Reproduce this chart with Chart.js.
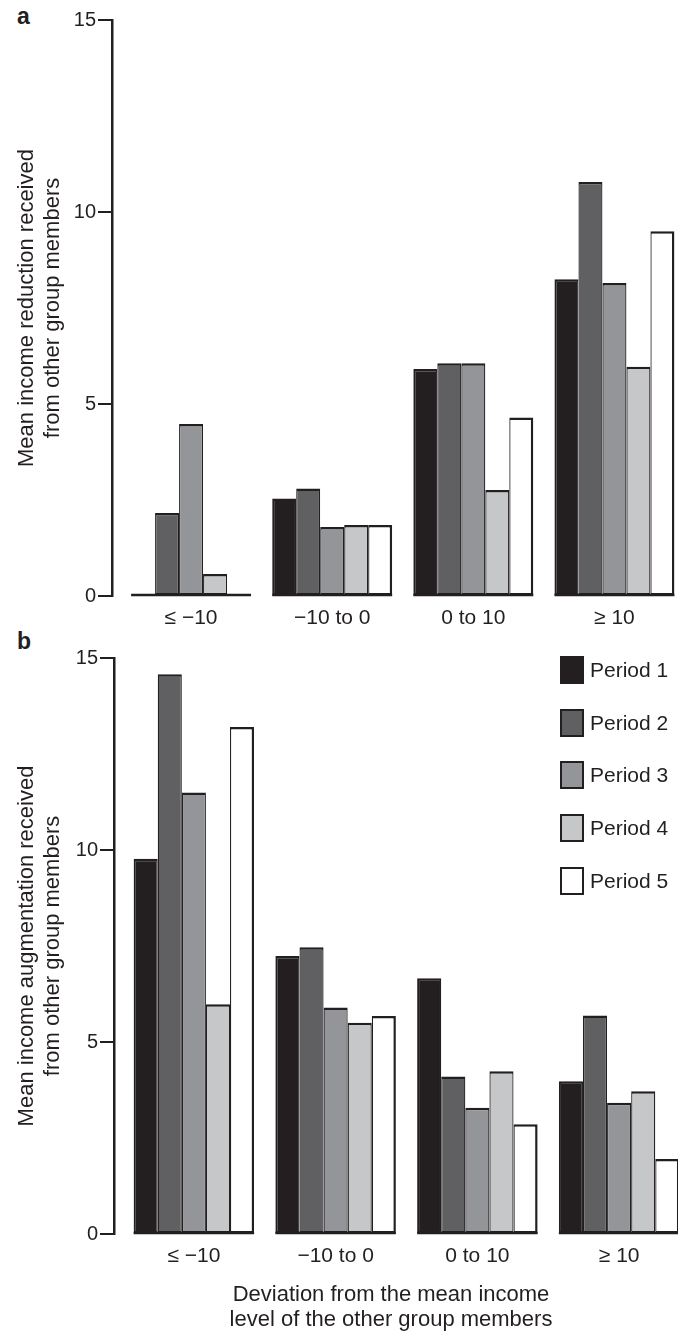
<!DOCTYPE html>
<html>
<head>
<meta charset="utf-8">
<script src="https://cdn.jsdelivr.net/npm/chart.js@4.4.1/dist/chart.umd.min.js"></script>
<style>
  html, body { margin: 0; padding: 0; background: #fff; }
  body { width: 678px; height: 1333px; position: relative; overflow: hidden;
         font-family: 'Liberation Sans', Arial, Helvetica, sans-serif; color: #231f20; }
  canvas { position: absolute; left: 0; }
  #chartA { top: 0; }
  #chartB { top: 630px; }
  .panel { position: absolute; font-weight: bold; font-size: 23px; line-height: 23px; }
  #xtitle { position: absolute; left: 191px; width: 400px; top: 1281px; text-align: center;
            font-size: 22px; line-height: 25px; }
  #legend { position: absolute; left: 560px; top: 656px; }
  .item { display: flex; align-items: center; height: 28px; margin-bottom: 24.7px; font-size: 21px; }
  .swatch { width: 24px; height: 28px; box-sizing: border-box; border: 2px solid #231f20; margin-right: 6px; }
</style>
</head>
<body>
<div class="panel" style="left:17px;top:5px">a</div>
<div class="panel" style="left:17px;top:630px">b</div>
<canvas id="chartA" width="700" height="660"></canvas>
<canvas id="chartB" width="700" height="703"></canvas>
<div id="xtitle">Deviation from the mean income<br>level of the other group members</div>
<div id="legend"></div>
<script>
const ink = '#231f20';

const categories = ['\u2264 \u221210', '\u221210 to 0', '0 to 10', '\u2265 10'];
const periods = ['Period 1', 'Period 2', 'Period 3', 'Period 4', 'Period 5'];
const periodColors = ['#231f20', '#606062', '#939598', '#c6c7c9', '#ffffff'];
const yTicks = [0, 5, 10, 15];

// a: mean income reduction received
const reductionP1 = [0, 2.54, 5.91, 8.25];
const reductionP2 = [2.16, 2.80, 6.06, 10.78];
const reductionP3 = [4.48, 1.80, 6.06, 8.15];
const reductionP4 = [0.57, 1.85, 2.76, 5.97];
const reductionP5 = [0, 1.85, 4.65, 9.50];

// b: mean income augmentation received
const augmentP1 = [9.77, 7.24, 6.66, 3.98];
const augmentP2 = [14.58, 7.47, 4.10, 5.69];
const augmentP3 = [11.50, 5.90, 3.29, 3.42];
const augmentP4 = [5.98, 5.50, 4.24, 3.72];
const augmentP5 = [13.20, 5.68, 2.86, 1.95];

Chart.defaults.font.family = "'Liberation Sans', Arial, Helvetica, sans-serif";
Chart.defaults.color = ink;

function datasets(series) {
  return series.map((data, i) => ({
    label: periods[i],
    data: data,
    backgroundColor: periodColors[i],
    borderColor: ink,
    borderWidth: { top: 2.5, bottom: 2, left: i === 0 ? 2 : 1.25, right: i === series.length - 1 ? 2.5 : 1.25 },
    borderSkipped: false,
    barPercentage: 1,
    categoryPercentage: 0.85,
  }));
}

// baseline under each group of bars, also where a bar is zero
const groupBaseline = {
  id: 'groupBaseline',
  afterDatasetsDraw(chart) {
    const n = chart.data.datasets.length;
    const first = chart.getDatasetMeta(0).data;
    const last = chart.getDatasetMeta(n - 1).data;
    const y0 = chart.scales.y.getPixelForValue(0);
    const ctx = chart.ctx;
    ctx.save();
    ctx.strokeStyle = ink;
    ctx.lineWidth = 2.5;
    first.forEach((bar, i) => {
      const a = bar.getProps(['x', 'width'], true);
      const b = last[i].getProps(['x', 'width'], true);
      ctx.beginPath();
      ctx.moveTo(a.x - a.width / 2, y0 - 1);
      ctx.lineTo(b.x + b.width / 2, y0 - 1);
      ctx.stroke();
    });
    ctx.restore();
  }
};

function buildPanel(id, series, title, axisX, gap, pad) {
  new Chart(document.getElementById(id), {
    type: 'bar',
    data: { labels: categories, datasets: datasets(series) },
    plugins: [groupBaseline],
    options: {
      responsive: false,
      animation: false,
      devicePixelRatio: 1,
      layout: { padding: pad },
      plugins: { legend: { display: false }, tooltip: { enabled: false } },
      scales: {
        x: {
          grid: { display: false, drawTicks: false },
          border: { display: false },
          ticks: { padding: 10, font: { size: 21 }, color: ink },
          afterFit: s => { s.height = 40; }
        },
        y: {
          position: 'left',
          weight: 1,
          min: 0,
          max: 15,
          afterBuildTicks: s => { s.ticks = yTicks.map(v => ({ value: v })); },
          grid: { drawOnChartArea: false, drawTicks: true, tickLength: 14, color: ink, lineWidth: 2 },
          border: { display: true, color: ink, width: 2.5 },
          ticks: { padding: 2, font: { size: 20 }, color: ink },
          title: {
            display: true,
            text: title,
            font: { size: 22, lineHeight: '26px' },
            color: ink,
            padding: { top: 14, bottom: 0 }
          },
          afterFit: s => { s.width = axisX; }
        },
        gap: {
          type: 'linear',
          position: 'left',
          weight: 0,
          display: true,
          grid: { display: false },
          border: { display: false },
          ticks: { display: false },
          afterFit: s => { s.width = gap; }
        }
      }
    }
  });
}

buildPanel('chartA',
  [reductionP1, reductionP2, reductionP3, reductionP4, reductionP5],
  ['Mean income reduction received', 'from other group members'],
  112, 8.5, { top: 20, left: 0, right: 15, bottom: 24 });

buildPanel('chartB',
  [augmentP1, augmentP2, augmentP3, augmentP4, augmentP5],
  ['Mean income augmentation received', 'from other group members'],
  114, 9, { top: 28, left: 0, right: 10, bottom: 59 });

const legend = document.getElementById('legend');
periods.forEach((p, i) => {
  const item = document.createElement('div');
  item.className = 'item';
  item.innerHTML = `<div class="swatch" style="background:${periodColors[i]}"></div><span>${p}</span>`;
  legend.appendChild(item);
});
</script>
</body>
</html>
